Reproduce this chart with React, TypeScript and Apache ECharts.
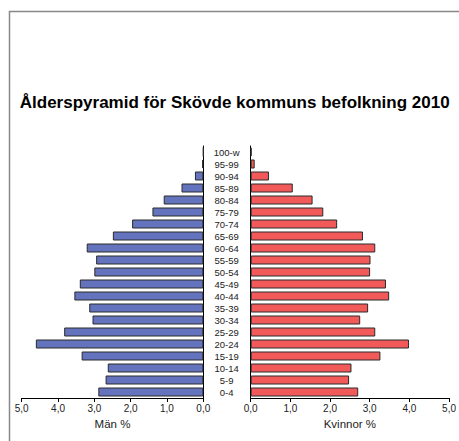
import React, { useEffect, useRef } from "react";
import * as echarts from "echarts";

const categories = ["0-4","5-9","10-14","15-19","20-24","25-29","30-34","35-39","40-44","45-49","50-54","55-59","60-64","65-69","70-74","75-79","80-84","85-89","90-94","95-99","100-w"];
const menValues = [2.89,2.69,2.63,3.35,4.61,3.83,3.05,3.14,3.55,3.40,3.00,2.95,3.21,2.49,1.96,1.40,1.09,0.60,0.23,0.03,0.0];
const womenValues = [2.71,2.48,2.54,3.27,3.99,3.14,2.76,2.96,3.49,3.41,3.01,3.02,3.14,2.83,2.18,1.83,1.56,1.06,0.46,0.10,0.02];
const titleText = "Ålderspyramid för Skövde kommuns befolkning 2010";
const menName = "Män %";
const womenName = "Kvinnor %";

const FONT = "'Liberation Sans', Arial, sans-serif";

export default function App() {
  const ref = useRef<HTMLDivElement>(null);
  useEffect(() => {
    if (!ref.current) return;
    const chart = echarts.init(ref.current, null, { renderer: "svg" });
    const xCommon = (name: string) => ({
      type: "value",
      min: 0,
      max: 5,
      interval: 1,
      name,
      nameLocation: "middle",
      nameGap: 19,
      nameTextStyle: { fontFamily: FONT, fontSize: 11.5, color: "#222" },
      axisLine: { show: true, lineStyle: { color: "#000", width: 1 } },
      axisTick: { show: true, length: 4, lineStyle: { color: "#000" } },
      axisLabel: {
        fontFamily: FONT,
        fontSize: 10,
        color: "#222",
        margin: 5,
        formatter: (v: number) => v.toFixed(1).replace(".", ","),
      },
      splitLine: { show: false },
    });
    chart.setOption({
      animation: false,
      backgroundColor: "#fff",
      graphic: [
        {
          type: "rect",
          shape: { x: 9.5, y: 11.5, width: 600, height: 600 },
          style: { fill: "none", stroke: "#888", lineWidth: 1.5 },
          silent: true,
        },
        {
          type: "text",
          x: 234.7,
          y: 102,
          style: {
            text: titleText,
            fontFamily: FONT,
            fontWeight: "bold",
            fontSize: 17,
            fill: "#000",
            align: "center",
            verticalAlign: "middle",
          },
        },
      ],
      grid: [
        { left: 21.7, right: 459 - 203.3, top: 146, bottom: 43 },
        { left: 250.7, right: 5, top: 146, bottom: 43 },
      ],
      xAxis: [
        { ...xCommon(menName), gridIndex: 0, inverse: true },
        { ...xCommon(womenName), gridIndex: 1 },
      ],
      yAxis: [
        {
          type: "category",
          gridIndex: 0,
          data: categories,
          position: "right",
          axisLine: { show: true, lineStyle: { color: "#000", width: 1 } },
          axisTick: { show: false },
          axisLabel: { show: false },
        },
        {
          type: "category",
          gridIndex: 1,
          data: categories,
          position: "left",
          axisLine: { show: true, lineStyle: { color: "#000", width: 1 } },
          axisTick: { show: false },
          axisLabel: {
            show: true,
            interval: 0,
            align: "center",
            margin: 24,
            fontFamily: FONT,
            fontSize: 9.5,
            color: "#222",
          },
        },
      ],
      series: [
        {
          type: "bar",
          xAxisIndex: 0,
          yAxisIndex: 0,
          data: menValues,
          barWidth: 9,
          itemStyle: { color: "#6473BD", borderColor: "#2a2a2a", borderWidth: 1 },
        },
        {
          type: "bar",
          xAxisIndex: 1,
          yAxisIndex: 1,
          data: womenValues,
          barWidth: 9,
          itemStyle: { color: "#F25A5A", borderColor: "#2a2a2a", borderWidth: 1 },
        },
      ],
    });
    return () => chart.dispose();
  }, []);
  return (
    <div
      ref={ref}
      style={{ position: "fixed", left: 0, top: 0, width: 459, height: 441 }}
    />
  );
}
